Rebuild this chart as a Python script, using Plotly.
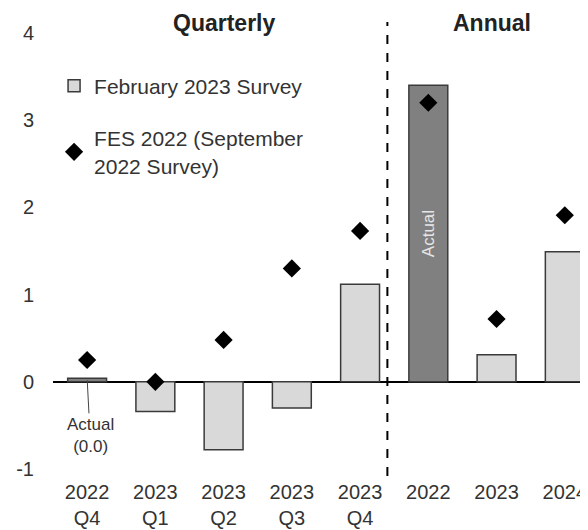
import plotly.graph_objects as go

categories = ["2022<br>Q4", "2023<br>Q1", "2023<br>Q2", "2023<br>Q3", "2023<br>Q4", "2022", "2023", "2024"]
feb_2023_survey = [0.04, -0.34, -0.78, -0.30, 1.12, 3.40, 0.31, 1.49]
fes_2022 = [0.25, 0.00, 0.48, 1.30, 1.73, 3.20, 0.72, 1.91]
is_actual = [True, False, False, False, False, True, False, False]
bar_text = ["", "", "", "", "", "Actual", "", ""]
y_ticks = [-1, 0, 1, 2, 3, 4]
y_tick_labels = ["-1", "0", "1", "2", "3", "4"]

xs = list(range(len(categories)))
LIGHT = "#d9d9d9"
DARK = "#808080"
EDGE = "#3a3a3a"
FONT = "Liberation Sans, Arial, sans-serif"

fig = go.Figure()
fig.add_trace(go.Bar(
    x=xs, y=feb_2023_survey, name="February 2023 Survey",
    marker=dict(color=[DARK if a else LIGHT for a in is_actual],
                line=dict(color=EDGE, width=1.5)),
    width=0.57,
    text=bar_text, textposition="inside", textangle=-90,
    insidetextanchor="middle",
    textfont=dict(color="#e6e6e6", size=17, family=FONT),
    showlegend=False,
))
# legend-only entry (light fill as in the reference key)
fig.add_trace(go.Bar(
    x=[None], y=[None], name="February 2023 Survey",
    marker=dict(color=LIGHT, line=dict(color=EDGE, width=1.5)),
    legendgroup="a",
))
fig.add_trace(go.Scatter(
    x=xs, y=fes_2022, mode="markers", name="FES 2022 (September<br>2022 Survey)",
    marker=dict(symbol="diamond", size=14, color="black"),
    legendgroup="b",
))

fig.update_layout(
    width=588, height=530,
    margin=dict(l=45, r=8, t=25, b=69, autoexpand=False),
    paper_bgcolor="white", plot_bgcolor="white",
    font=dict(family=FONT, size=21, color="#333333"),
    showlegend=True,
    legend=dict(x=0.002, y=0.925, xanchor="left", yanchor="top",
                bgcolor="rgba(0,0,0,0)", font=dict(size=21, color="#333333"),
                traceorder="grouped", tracegroupgap=22, itemwidth=30),
    bargap=0.4,
    xaxis=dict(range=[-0.5, 7.34], tickmode="array", tickvals=xs, ticktext=categories,
               showgrid=False, zeroline=False, showline=False, ticks="",
               automargin=False,
               tickfont=dict(size=20, color="#333333"), ticklabelstandoff=9),
    yaxis=dict(range=[-1, 4], tickmode="array", tickvals=y_ticks, ticktext=y_tick_labels,
               showgrid=False, automargin=False,
               zeroline=True, zerolinecolor="black", zerolinewidth=2,
               showline=False, ticks="", ticklabelstandoff=18,
               tickfont=dict(size=20, color="#333333")),
)

fig.add_shape(type="line", xref="x", yref="paper", x0=4.4, x1=4.4, y0=-0.016, y1=1.025,
              line=dict(color="black", width=2, dash="dash"), layer="above")

fig.add_annotation(x=2, y=1.023, xref="x", yref="paper", text="<b>Quarterly</b>",
                   showarrow=False, font=dict(size=23, color="#222222"), yanchor="middle")
fig.add_annotation(x=5.93, y=1.023, xref="x", yref="paper", text="<b>Annual</b>",
                   showarrow=False, font=dict(size=23, color="#222222"), yanchor="middle")
fig.add_annotation(x=0, y=feb_2023_survey[0], xref="x", yref="y",
                   text="Actual<br>(0.0)", showarrow=True, arrowhead=0, arrowwidth=1,
                   arrowcolor="#444444", ax=3, ay=57, standoff=2,
                   font=dict(size=17, color="#333333"))

fig.write_html("out.html")
